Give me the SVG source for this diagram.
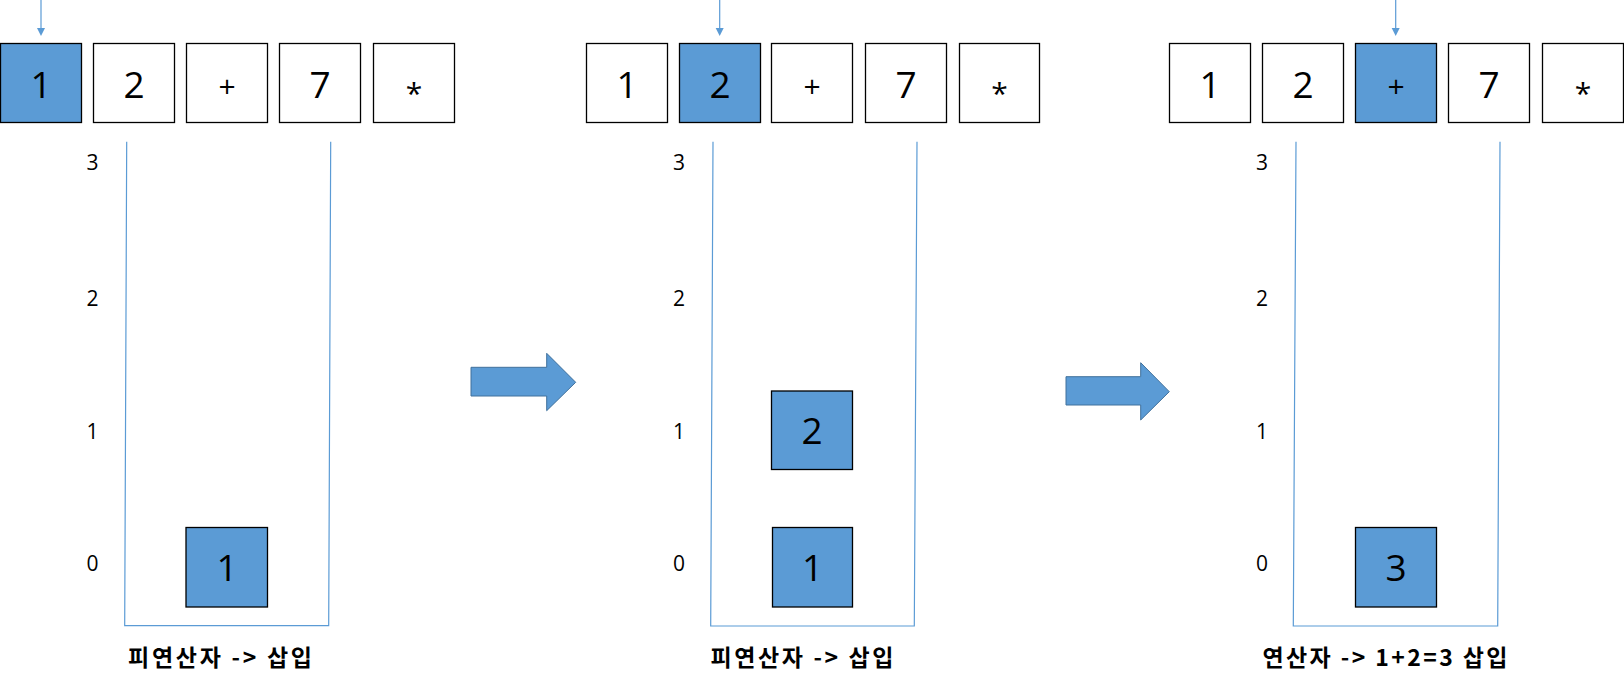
<svg xmlns="http://www.w3.org/2000/svg" width="1624" height="686" viewBox="0 0 1624 686">
<style>
.cell{fill:#ffffff;stroke:#000000;stroke-width:1.3}
.cur{fill:#5b9bd5;stroke:#000000;stroke-width:1.3}
.big{font-family:"Open Sans","Liberation Sans",sans-serif;font-size:37px;fill:#000;text-anchor:middle}
.op{font-family:"Open Sans","Liberation Sans",sans-serif;font-size:30px;fill:#000;text-anchor:middle}
.idx{font-family:"Open Sans","Liberation Sans",sans-serif;font-size:21px;fill:#000;text-anchor:middle}
.cap{font-family:"Noto Sans CJK KR","Noto Sans",sans-serif;font-size:23px;font-weight:bold;fill:#000;text-anchor:middle}
.stack{fill:none;stroke:#5b9bd5;stroke-width:1.2}
.ptr{stroke:#5b9bd5;stroke-width:1.2}
.ptrh{fill:#5b9bd5}
.fat{fill:#5b9bd5;stroke:#41719c;stroke-width:1}
</style>

<g id="panel1">
  <g id="p1-input">
    <rect class="cur" x="0.5" y="43.5" width="81" height="79"/><text class="big" x="41" y="98">1</text>
    <rect class="cell" x="93.5" y="43.5" width="81" height="79"/><text class="big" x="134" y="98">2</text>
    <rect class="cell" x="186.5" y="43.5" width="81" height="79"/><text class="op" x="227" y="97">+</text>
    <rect class="cell" x="279.5" y="43.5" width="81" height="79"/><text class="big" x="320" y="98">7</text>
    <rect class="cell" x="373.5" y="43.5" width="81" height="79"/><text class="op" x="414" y="104">*</text>
  </g>
  <g id="p1-stack">
    <path class="stack" d="M126.7,141.7 L124.7,625.7 L328.7,625.7 L330.7,141.7"/>
    <text class="idx" x="92.5" y="170">3</text>
    <text class="idx" x="92.5" y="306">2</text>
    <text class="idx" x="92.5" y="439">1</text>
    <text class="idx" x="92.5" y="571">0</text>
  </g>
  <g id="p1-item0">
    <rect class="cur" x="186" y="527.5" width="81.5" height="79.5"/><text class="big" x="227" y="581">1</text>
  </g>
  <text class="cap" x="220" y="666" textLength="184" lengthAdjust="spacing">피연산자 -&gt; 삽입</text>
</g>

<g id="panel2">
  <g id="p2-input">
    <rect class="cell" x="586.5" y="43.5" width="81" height="79"/><text class="big" x="627" y="98">1</text>
    <rect class="cur" x="679.5" y="43.5" width="81" height="79"/><text class="big" x="720" y="98">2</text>
    <rect class="cell" x="771.5" y="43.5" width="81" height="79"/><text class="op" x="812" y="97">+</text>
    <rect class="cell" x="865.5" y="43.5" width="81" height="79"/><text class="big" x="906" y="98">7</text>
    <rect class="cell" x="959.5" y="43.5" width="80" height="79"/><text class="op" x="999.5" y="104">*</text>
  </g>
  <g id="p2-stack">
    <path class="stack" d="M713,141.7 L710.7,626 L914.3,626 L917,141.7"/>
    <text class="idx" x="679" y="170">3</text>
    <text class="idx" x="679" y="306">2</text>
    <text class="idx" x="679" y="439">1</text>
    <text class="idx" x="679" y="571">0</text>
  </g>
  <g id="p2-item1">
    <rect class="cur" x="771.5" y="391" width="81" height="78.5"/><text class="big" x="812" y="444">2</text>
  </g>
  <g id="p2-item0">
    <rect class="cur" x="772.5" y="527.5" width="80" height="79.5"/><text class="big" x="812.5" y="581">1</text>
  </g>
  <text class="cap" x="802" y="666" textLength="183" lengthAdjust="spacing">피연산자 -&gt; 삽입</text>
</g>

<g id="panel3">
  <g id="p3-input">
    <rect class="cell" x="1169.5" y="43.5" width="81" height="79"/><text class="big" x="1210" y="98">1</text>
    <rect class="cell" x="1262.5" y="43.5" width="81" height="79"/><text class="big" x="1303" y="98">2</text>
    <rect class="cur" x="1355.5" y="43.5" width="81" height="79"/><text class="op" x="1396" y="97">+</text>
    <rect class="cell" x="1448.5" y="43.5" width="81" height="79"/><text class="big" x="1489" y="98">7</text>
    <rect class="cell" x="1542.5" y="43.5" width="81" height="79"/><text class="op" x="1583" y="104">*</text>
  </g>
  <g id="p3-stack">
    <path class="stack" d="M1296,141.7 L1293.3,626 L1497.7,626 L1500,141.7"/>
    <text class="idx" x="1262" y="170">3</text>
    <text class="idx" x="1262" y="306">2</text>
    <text class="idx" x="1262" y="439">1</text>
    <text class="idx" x="1262" y="571">0</text>
  </g>
  <g id="p3-item0">
    <rect class="cur" x="1355.5" y="527.5" width="81" height="79.5"/><text class="big" x="1396" y="581">3</text>
  </g>
  <text class="cap" x="1385" y="666" textLength="245" lengthAdjust="spacing">연산자 -&gt; 1+2=3 삽입</text>
</g>

<g id="connectors">
  <line class="ptr" x1="41" y1="0" x2="41" y2="29"/>
  <polygon class="ptrh" points="37,28 45,28 41,36"/>
  <line class="ptr" x1="719.7" y1="0" x2="719.7" y2="29"/>
  <polygon class="ptrh" points="715.7,28 723.7,28 719.7,36"/>
  <line class="ptr" x1="1395.7" y1="0" x2="1395.7" y2="29"/>
  <polygon class="ptrh" points="1391.7,28 1399.7,28 1395.7,36"/>
  <polygon class="fat" points="471,367.3 546.7,367.3 546.7,353.3 575.7,382.3 546.7,410.7 546.7,396 471,396"/>
  <polygon class="fat" points="1066,376.7 1140.7,376.7 1140.7,362.7 1169.3,391.7 1140.7,420 1140.7,405 1066,405"/>
</g>
</svg>
